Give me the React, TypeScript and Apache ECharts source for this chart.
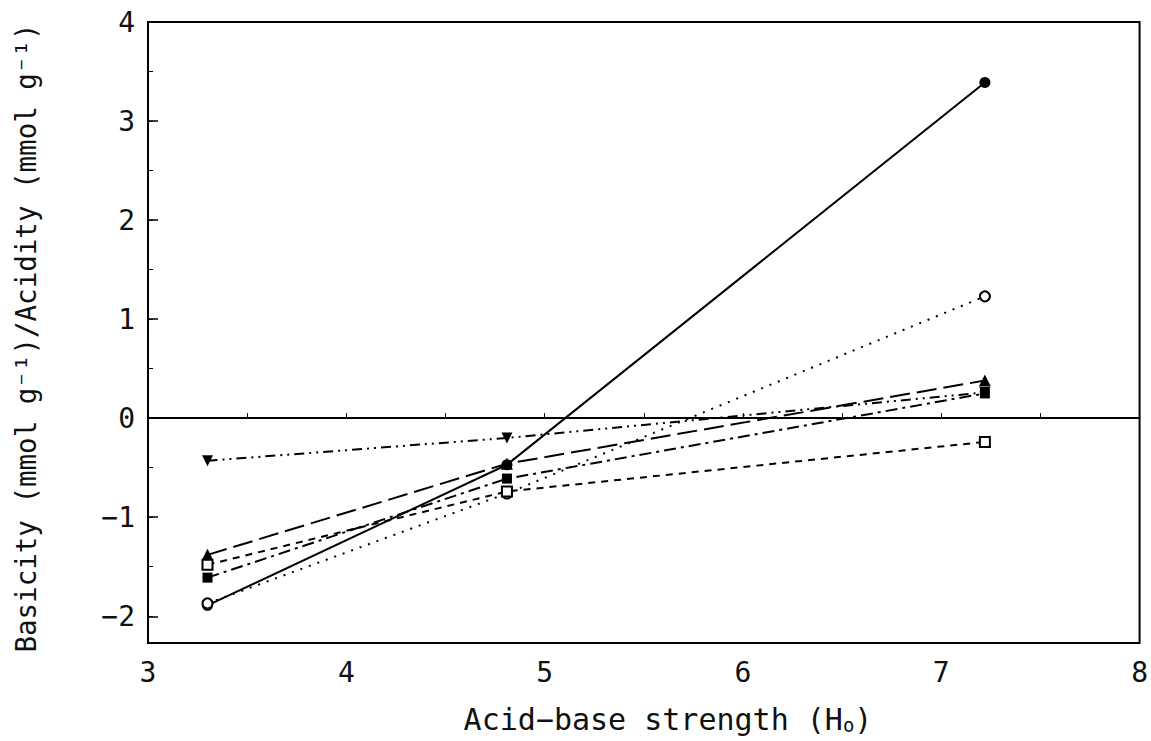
import React, { useEffect, useRef } from "react";
import * as echarts from "echarts";

const xValues = [3.3, 4.81, 7.22];
const filledCircle = [-1.89, -0.47, 3.39];
const openCircle = [-1.87, -0.76, 1.23];
const filledTriangle = [-1.38, -0.46, 0.38];
const filledSquare = [-1.61, -0.61, 0.25];
const openSquare = [-1.48, -0.74, -0.24];
const invTriangle = [-0.43, -0.2, 0.26];

const xTickLabels = [3, 4, 5, 6, 7, 8];
const yTickLabels = [-2, -1, 0, 1, 2, 3, 4];
const yMinorTicks = [-2, -1.5, -1, -0.5, 0, 0.5, 1, 1.5, 2, 2.5, 3, 3.5, 4];
const xMinorTicks = [3.5, 4, 4.5, 5, 5.5, 6, 6.5, 7, 7.5];

const xTitle = "Acid\u2212base strength (H{sub|o})";
const yTitle = "Basicity (mmol g\u207B\u00B9)/Acidity (mmol g\u207B\u00B9)";

const FONT = "DejaVu Sans Mono";
const INK = "#111";

function pts(vals: number[]) {
  return xValues.map((x, i) => [x, vals[i]]);
}

export default function App() {
  const ref = useRef<HTMLDivElement>(null);
  useEffect(() => {
    if (!ref.current) return;
    const chart = echarts.init(ref.current, undefined, { renderer: "svg" });
    const mk = (
      name: string,
      vals: number[],
      symbol: string,
      dash: any,
      size: number,
      filled: boolean,
      rotate = 0
    ) => ({
      name,
      type: "line",
      data: pts(vals),
      symbol,
      symbolSize: size,
      symbolRotate: rotate,
      showAllSymbol: true,
      lineStyle: { color: "#000", width: 2, type: dash },
      itemStyle: {
        color: filled ? "#000" : "#fff",
        borderColor: "#000",
        borderWidth: filled ? 0 : 2,
      },
      z: 3,
    });
    chart.setOption({
      animation: false,
      backgroundColor: "#fff",
      grid: {
        left: 148,
        right: 8,
        top: 22,
        bottom: 98,
        show: true,
        borderColor: "#000",
        borderWidth: 2,
        backgroundColor: "transparent",
      },
      graphic: [
        {
          type: "text",
          x: 668,
          y: 719,
          style: {
            text: xTitle,
            font: `30px "${FONT}"`,
            fill: INK,
            align: "center",
            verticalAlign: "middle",
            rich: {
              sub: { fontFamily: FONT, fontSize: 19, fill: INK, padding: [12, 0, 0, 0] },
            },
          },
        },
        {
          type: "text",
          x: 26,
          y: 338,
          rotation: Math.PI / 2,
          style: {
            text: yTitle,
            font: `27.5px "${FONT}"`,
            fill: INK,
            align: "center",
            verticalAlign: "middle",
          },
        },
      ],
      xAxis: [
        {
          type: "value",
          min: 3,
          max: 8,
          interval: 1,
          axisLine: { show: true, lineStyle: { color: "#000", width: 2 } },
          axisTick: { show: true, inside: true, length: 5, customValues: xMinorTicks, lineStyle: { color: "#000", width: 1 } },
          axisLabel: {
            customValues: xTickLabels,
            fontFamily: FONT,
            fontSize: 28,
            color: INK,
            margin: 15,
          },
          splitLine: { show: false },
        },
      ],
      yAxis: [
        {
          type: "value",
          min: -2.27,
          max: 4,
          position: "left",
          axisLine: { show: true, lineStyle: { color: "#000", width: 2 } },
          axisTick: { show: true, inside: true, length: 10, customValues: yTickLabels, lineStyle: { color: "#000", width: 1.5 } },
          axisLabel: {
            customValues: yTickLabels,
            fontFamily: FONT,
            fontSize: 28,
            color: INK,
            margin: 13,
            formatter: (v: number) => (v < 0 ? "\u2212" + Math.abs(v) : String(v)),
          },
          splitLine: { show: false },
        },
        {
          type: "value",
          min: -2.27,
          max: 4,
          position: "left",
          axisLine: { show: false },
          axisTick: { show: true, inside: true, length: 5, customValues: yMinorTicks, lineStyle: { color: "#000", width: 1 } },
          axisLabel: { show: false },
          splitLine: { show: false },
        },
      ],
      series: [
        {
          ...mk("filledCircle", filledCircle, "circle", "solid", 11, true),
          markLine: {
            silent: true,
            symbol: "none",
            label: { show: false },
            lineStyle: { color: "#000", width: 2, type: "solid" },
            data: [{ yAxis: 0 }],
          },
        },
        mk("openCircle", openCircle, "circle", [2, 7], 10, false),
        mk("filledTriangle", filledTriangle, "triangle", [20, 7], 12, true),
        mk("filledSquare", filledSquare, "rect", [12, 5, 3, 5], 10, true),
        mk("openSquare", openSquare, "rect", [7, 6], 10, false),
        mk("invTriangle", invTriangle, "triangle", [10, 5, 2, 5, 2, 5], 11, true, 180),
      ],
    });
    return () => chart.dispose();
  }, []);
  return (
    <div
      ref={ref}
      style={{ position: "fixed", left: 0, top: 0, width: 1151, height: 741, background: "#fff" }}
    />
  );
}
